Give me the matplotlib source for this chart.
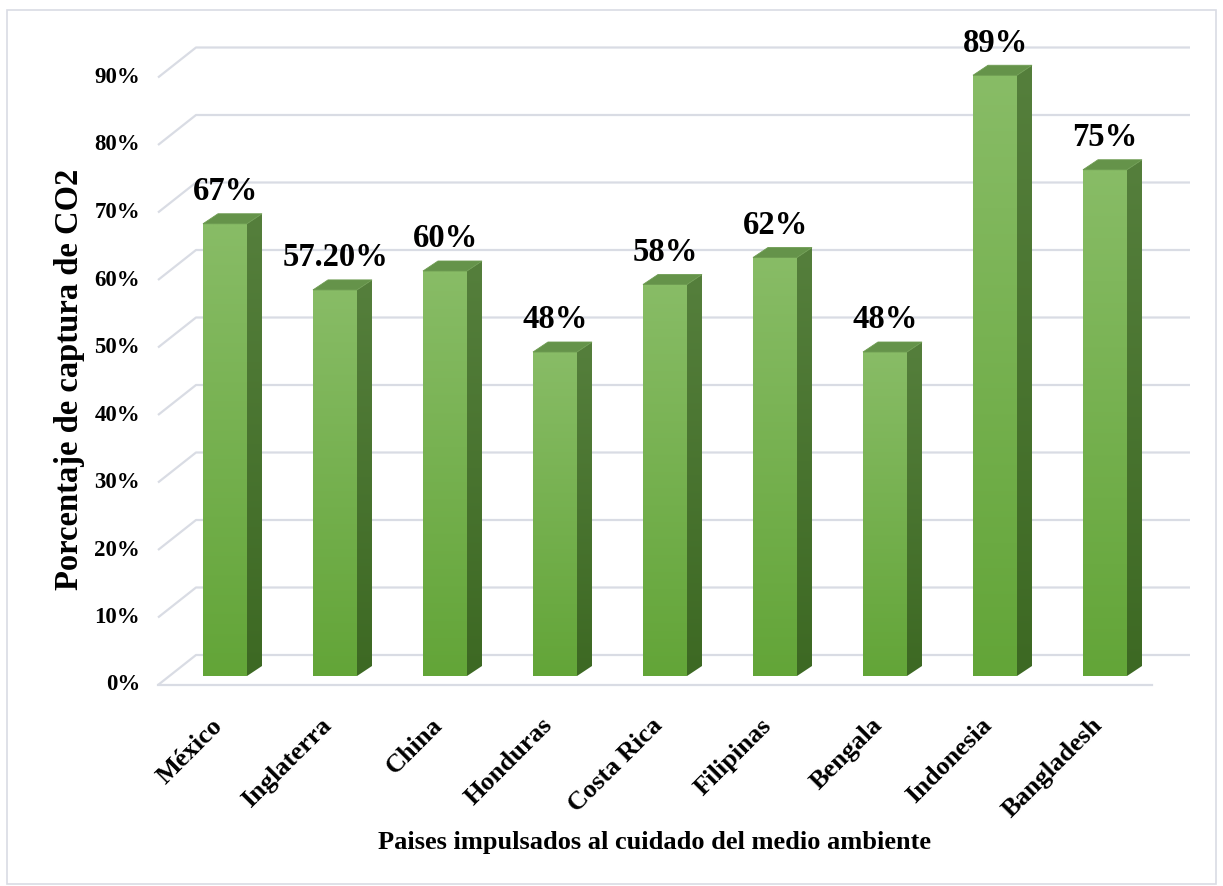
import numpy as np
import matplotlib
matplotlib.use("Agg")
import matplotlib.pyplot as plt
from matplotlib.patches import Polygon, Rectangle

# -----------------------------
# Datos
# -----------------------------
paises = ["México", "Inglaterra", "China", "Honduras", "Costa Rica",
          "Filipinas", "Bengala", "Indonesia", "Bangladesh"]
captura = [67, 57.2, 60, 48, 58, 62, 48, 89, 75]
etiquetas = ["67%", "57.20%", "60%", "48%", "58%", "62%", "48%", "89%", "75%"]
ticks = [0, 10, 20, 30, 40, 50, 60, 70, 80, 90]

# -----------------------------
# Estilo / geometria 3D
# -----------------------------
W, H = 1223, 886
X0, DX = 225.0, 110.0      # px de la primera categoria y paso
Y0, DY = 676.0, 6.75       # px del 0% y px por 1%
FONT = "Liberation Serif"
GRID = "#D9DCE4"

half = 0.2                 # semiancho de la barra
sx, sy = 15 / DX, 10 / DY  # profundidad de la cara lateral
back_dy = 21 / DY          # pared del fondo
front_dy = -9 / DY         # borde frontal del suelo
wall_x0 = (196 - X0) / DX
wall_x1 = (1190 - X0) / DX
front_x0 = (158 - X0) / DX
floor_x1 = (1152 - X0) / DX

fig = plt.figure(figsize=(W / 100, H / 100), dpi=100)
ax = fig.add_axes([0, 0, 1, 1])
ax.set_xlim(-X0 / DX, (W - X0) / DX)
ax.set_ylim((Y0 - H) / DY, Y0 / DY)
ax.axis("off")

# marco exterior
fig.patches.append(Rectangle((7 / W, 1 - 884 / H), (1216 - 7) / W, (884 - 10) / H,
                             transform=fig.transFigure, fill=False,
                             edgecolor="#D9DCE4", lw=1.2))

# lineas de cuadricula (pared + lateral)
for t in ticks:
    ax.plot([front_x0, wall_x0, wall_x1],
            [t + front_dy, t + back_dy, t + back_dy],
            color=GRID, lw=1.6, zorder=1, solid_capstyle="butt")
    ax.text(-0.773, t + front_dy, f"{t}%", ha="right", va="center",
            fontsize=16.5, fontweight="bold", family=FONT)
ax.plot([front_x0, floor_x1], [front_dy, front_dy], color=GRID, lw=1.6, zorder=1)


def gradiente(c_top, c_bot, n=64):
    a = np.array(matplotlib.colors.to_rgb(c_top))
    b = np.array(matplotlib.colors.to_rgb(c_bot))
    f = np.linspace(0, 1, n)[:, None]
    return (a * (1 - f) + b * f)[:, None, :]


front_img = gradiente("#88BC66", "#63A538")
side_img = gradiente("#557F3C", "#3D6923")

for i, v in enumerate(captura):
    x0, x1 = i - half, i + half
    # cara frontal
    ax.imshow(front_img, extent=(x0, x1, 0, v), aspect="auto", zorder=3,
              interpolation="bilinear")
    # cara lateral
    side = Polygon([(x1, 0), (x1 + sx, sy), (x1 + sx, v + sy), (x1, v)],
                   closed=True, facecolor="none", edgecolor="none", zorder=3)
    ax.add_patch(side)
    im = ax.imshow(side_img, extent=(x1, x1 + sx, 0, v + sy), aspect="auto",
                   zorder=3, interpolation="bilinear")
    im.set_clip_path(side)
    # cara superior
    ax.add_patch(Polygon([(x0, v), (x1, v), (x1 + sx, v + sy), (x0 + sx, v + sy)],
                         closed=True, facecolor="#65934A", edgecolor="#6E9C52",
                         lw=0.6, zorder=4))
    ax.text(i, v + sy + 1.0, etiquetas[i], ha="center", va="bottom",
            fontsize=23.5, fontweight="bold", family=FONT)
    ax.text(i - 0.06, (Y0 - 722) / DY, paises[i], ha="right", va="center",
            rotation=45, rotation_mode="anchor",
            fontsize=19, fontweight="bold", family=FONT)

ax.text(-1.41, (Y0 - 379) / DY, "Porcentaje de captura de CO2", rotation=90,
        ha="center", va="center", fontsize=23.5, fontweight="bold", family=FONT)
ax.text((655 - X0) / DX, (Y0 - 842) / DY,
        "Paises impulsados al cuidado del medio ambiente",
        ha="center", va="center", fontsize=19, fontweight="bold", family=FONT)

fig.savefig("out.png", dpi=100)
